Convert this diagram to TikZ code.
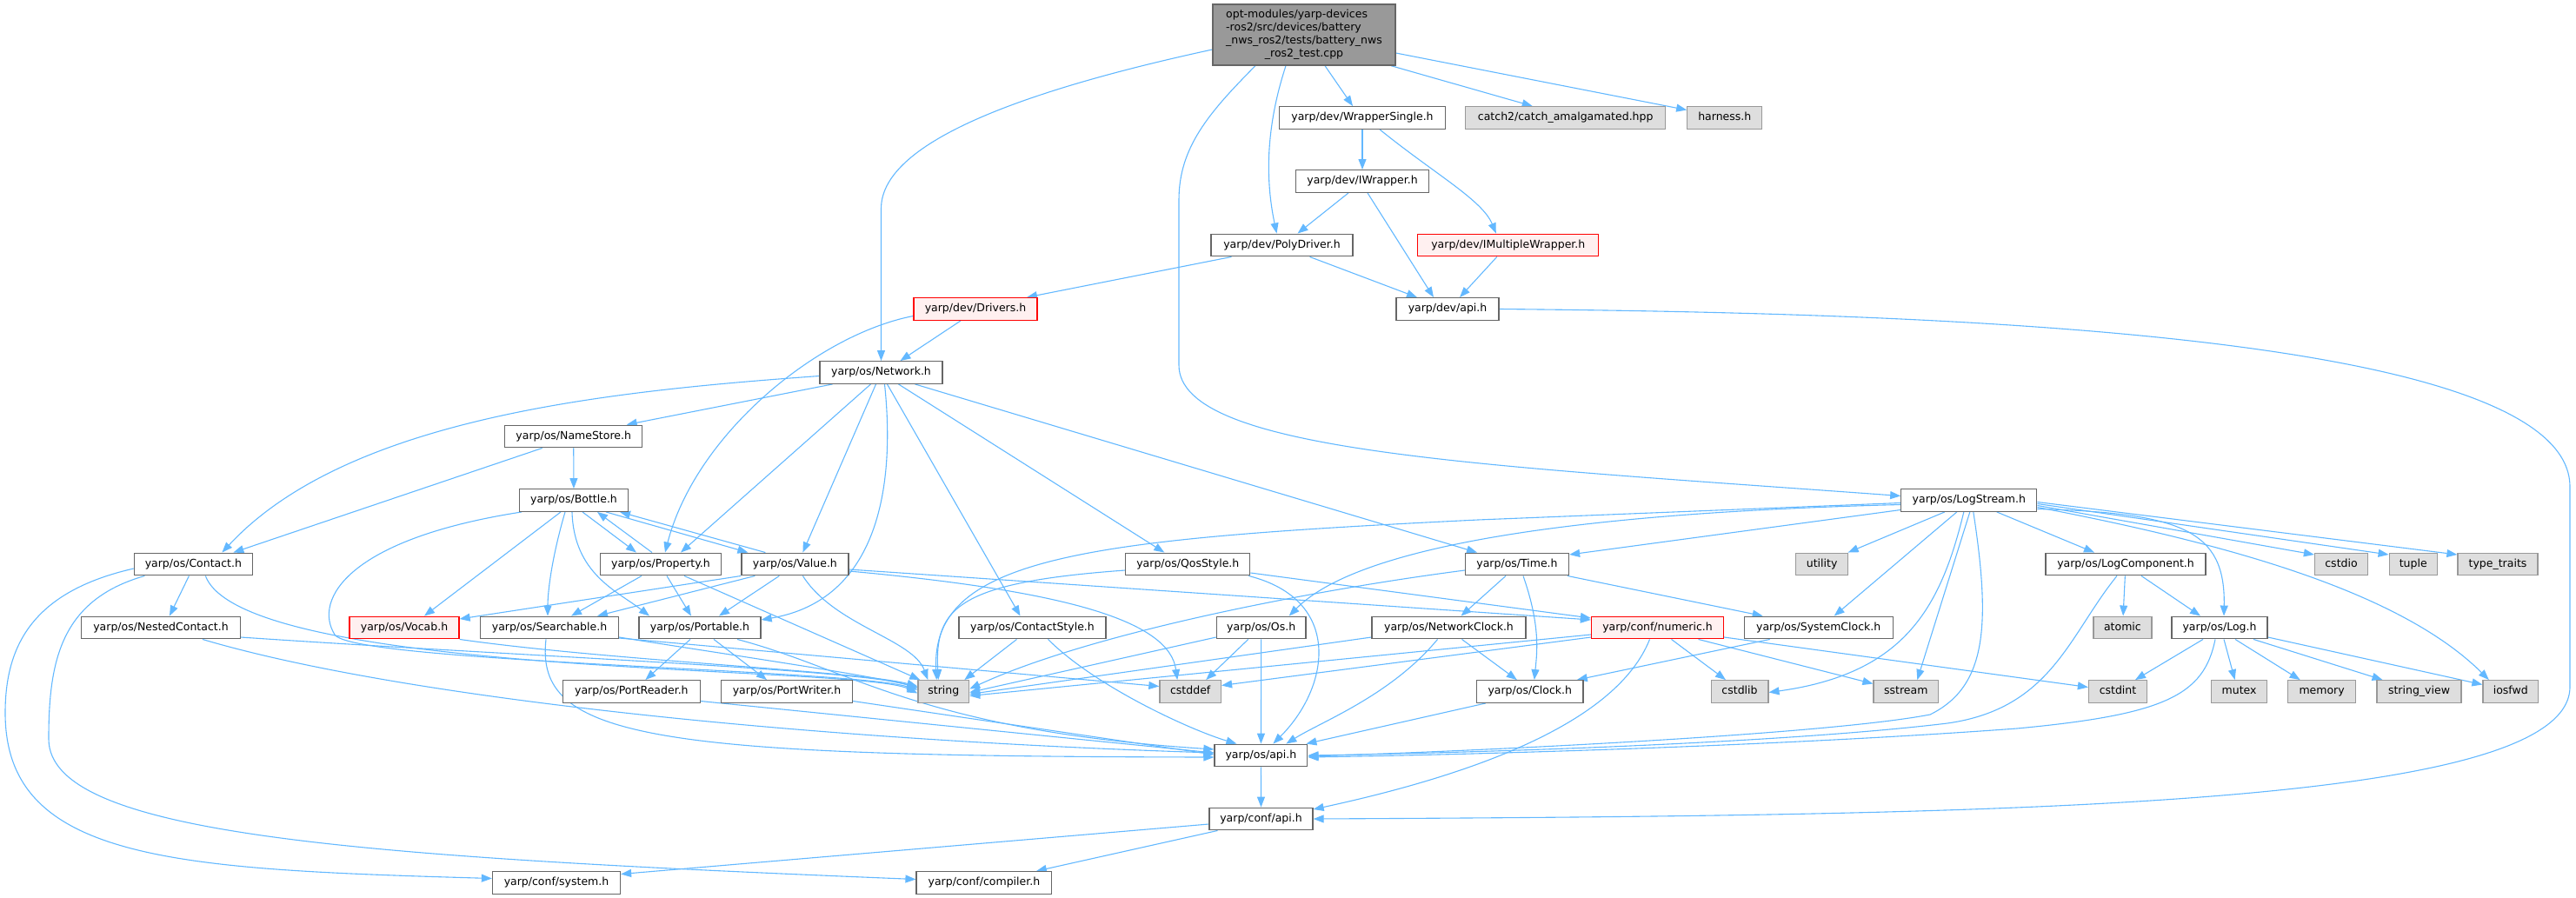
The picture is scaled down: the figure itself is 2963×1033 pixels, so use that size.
\documentclass[tikz,border=0pt]{standalone}
\usepackage{fontspec}
\setmainfont{DejaVu Sans}
\usetikzlibrary{arrows.meta}
\definecolor{EdgeBlue}{HTML}{63B8FF}
\definecolor{Grey40}{HTML}{666666}
\definecolor{Grey60}{HTML}{999999}
\definecolor{Grey87}{HTML}{DEDEDE}
\definecolor{TruncFill}{HTML}{FFF0F0}
\newcommand{\graphfont}{\fontsize{12.5}{14.8}\selectfont}
\pgfdeclarelayer{edgelayer}
\pgfsetlayers{edgelayer,main}
\tikzset{
  header/.style={rectangle, draw=Grey40, fill=white, line width=1.3pt, minimum height=25.6pt, inner sep=2pt, text height=9.3pt, text depth=2.7pt, font=\graphfont, text=black},
  stdhdr/.style={header, draw=Grey60, fill=Grey87},
  trunc/.style={header, draw=red, fill=TruncFill},
  srcfile/.style={rectangle, draw=Grey40, fill=Grey60, line width=1.3pt, inner sep=2pt, font=\graphfont, text=black},
  arrow/.style={->, >={Triangle[length=12pt, width=9pt]}, draw=EdgeBlue, line width=1.1pt}
}

\begin{document}
\begin{tikzpicture}[x=1pt, y=-1pt]
\useasboundingbox (0,0) rectangle (2963,1033);
\node (batterytest) [srcfile, minimum width=210pt, minimum height=70pt] at (1500,40) {\begin{tabular}{@{}l@{}}opt-modules/yarp-devices\\-ros2/src/devices/battery\\\_nws\_ros2/tests/battery\_nws\\\multicolumn{1}{@{}c@{}}{\_ros2\_test.cpp}\end{tabular}};
\node (wrappersingle) [header, minimum width=191pt] at (1567,135.5) {yarp/dev/WrapperSingle.h};
\node (catch) [stdhdr, minimum width=230pt] at (1800.7,135.5) {catch2/catch\_amalgamated.hpp};
\node (harness) [stdhdr, minimum width=86pt] at (1983.8,135.5) {harness.h};
\node (iwrapper) [header, minimum width=153pt] at (1567,208.5) {yarp/dev/IWrapper.h};
\node (polydriver) [header, minimum width=163pt] at (1474.5,282) {yarp/dev/PolyDriver.h};
\node (imultiplewrapper) [trunc, minimum width=208pt] at (1734.8,282) {yarp/dev/IMultipleWrapper.h};
\node (drivers) [trunc, minimum width=142pt] at (1122,355.5) {yarp/dev/Drivers.h};
\node (devapi) [header, minimum width=118pt] at (1665,355.5) {yarp/dev/api.h};
\node (network) [header, minimum width=141pt] at (1013.5,428.5) {yarp/os/Network.h};
\node (namestore) [header, minimum width=158pt] at (659.7,502) {yarp/os/NameStore.h};
\node (bottle) [header, minimum width=125pt] at (660,575.5) {yarp/os/Bottle.h};
\node (logstream) [header, minimum width=156pt] at (2264.8,575.5) {yarp/os/LogStream.h};
\node (contact) [header, minimum width=136pt] at (222.4,649) {yarp/os/Contact.h};
\node (property) [header, minimum width=139pt] at (760,649) {yarp/os/Property.h};
\node (value) [header, minimum width=123pt] at (914.4,649) {yarp/os/Value.h};
\node (qosstyle) [header, minimum width=143pt] at (1366.3,649) {yarp/os/QosStyle.h};
\node (time) [header, minimum width=119pt] at (1745,649) {yarp/os/Time.h};
\node (utility) [stdhdr, minimum width=60pt] at (2095.6,649) {utility};
\node (logcomponent) [header, minimum width=184pt] at (2445,649) {yarp/os/LogComponent.h};
\node (cstdio) [stdhdr, minimum width=61pt] at (2693,649) {cstdio};
\node (tuple) [stdhdr, minimum width=55pt] at (2775.7,649) {tuple};
\node (typetraits) [stdhdr, minimum width=92pt] at (2873,649) {type\_traits};
\node (nestedcontact) [header, minimum width=182.5pt] at (185,722) {yarp/os/NestedContact.h};
\node (vocab) [trunc, minimum width=126pt] at (465,722) {yarp/os/Vocab.h};
\node (searchable) [header, minimum width=159pt] at (632,722) {yarp/os/Searchable.h};
\node (portable) [header, minimum width=140pt] at (805,722) {yarp/os/Portable.h};
\node (contactstyle) [header, minimum width=169pt] at (1187.5,722) {yarp/os/ContactStyle.h};
\node (os) [header, minimum width=102.6pt] at (1450.7,722) {yarp/os/Os.h};
\node (networkclock) [header, minimum width=177pt] at (1666.5,722) {yarp/os/NetworkClock.h};
\node (numeric) [trunc, minimum width=152pt] at (1906.5,722) {yarp/conf/numeric.h};
\node (systemclock) [header, minimum width=171pt] at (2091.7,722) {yarp/os/SystemClock.h};
\node (atomic) [stdhdr, minimum width=67pt] at (2441.4,722) {atomic};
\node (log) [header, minimum width=110pt] at (2553,722) {yarp/os/Log.h};
\node (portreader) [header, minimum width=157.6pt] at (726.4,795.5) {yarp/os/PortReader.h};
\node (portwriter) [header, minimum width=151pt] at (905,795.5) {yarp/os/PortWriter.h};
\node (string) [stdhdr, minimum width=58.6pt] at (1085.3,795.5) {string};
\node (cstddef) [stdhdr, minimum width=70.5pt] at (1369.2,795.5) {cstddef};
\node (clock) [header, minimum width=122.5pt] at (1759.8,795.5) {yarp/os/Clock.h};
\node (cstdlib) [stdhdr, minimum width=65.7pt] at (2001,795.5) {cstdlib};
\node (sstream) [stdhdr, minimum width=74.5pt] at (2192.3,795.5) {sstream};
\node (cstdint) [stdhdr, minimum width=67pt] at (2436,795.5) {cstdint};
\node (mutex) [stdhdr, minimum width=64.4pt] at (2575.6,795.5) {mutex};
\node (memory) [stdhdr, minimum width=78pt] at (2670.6,795.5) {memory};
\node (stringview) [stdhdr, minimum width=97pt] at (2782.5,795.5) {string\_view};
\node (iosfwd) [stdhdr, minimum width=63.6pt] at (2887.8,795.5) {iosfwd};
\node (osapi) [header, minimum width=106.8pt] at (1450.4,869) {yarp/os/api.h};
\node (confapi) [header, minimum width=119pt] at (1450.5,942) {yarp/conf/api.h};
\node (confsystem) [header, minimum width=147pt] at (640,1015.5) {yarp/conf/system.h};
\node (confcompiler) [header, minimum width=155.7pt] at (1131.9,1015.5) {yarp/conf/compiler.h};
\begin{pgfonlayer}{edgelayer}
\draw [arrow] ([yshift=-17pt]batterytest.west) .. controls (1150,110) and (1013.5,170) .. (1013.5,240) -- (network);
\draw [arrow] ([xshift=-56pt]batterytest.south) .. controls (1390,130) and (1356,170) .. (1356,230) -- (1356,420) .. controls (1356,520) and (1700,535) .. ([yshift=5pt]logstream.west);
\draw [arrow] ([xshift=-21pt]batterytest.south) .. controls (1458,140) and (1454,200) .. ([xshift=-6pt]polydriver.north);
\draw [arrow] ([xshift=24pt]batterytest.south) -- ([xshift=-11pt]wrappersingle.north);
\draw [arrow] ([xshift=100pt]batterytest.south) -- ([xshift=-38pt]catch.north);
\draw [arrow] ([yshift=-21pt]batterytest.east) -- ([yshift=9pt]harness.west);
\draw [arrow] (wrappersingle) -- (iwrapper);
\draw [arrow] ([xshift=20pt]wrappersingle.south) .. controls (1650,200) and (1705,230) .. ([xshift=-14pt]imultiplewrapper.north);
\draw [arrow] ([xshift=-16pt]iwrapper.south) -- ([xshift=18pt]polydriver.north);
\draw [arrow] ([xshift=6pt]iwrapper.south) -- ([xshift=-16pt]devapi.north);
\draw [arrow] ([xshift=-13pt]imultiplewrapper.south) -- ([xshift=14pt]devapi.north);
\draw [arrow] ([xshift=-58pt]polydriver.south) -- ([xshift=59pt]drivers.north);
\draw [arrow] ([xshift=32pt]polydriver.south) -- ([xshift=-35pt]devapi.north);
\draw [arrow] ([xshift=-17pt]drivers.south) -- ([xshift=22pt]network.north);
\draw [arrow] ([yshift=-8pt]drivers.west) .. controls (940,385) and (800,500) .. ([xshift=5pt]property.north);
\draw [arrow] (devapi.east) .. controls (2200,360) and (2956,380) .. (2956,560) -- (2956,790) .. controls (2956,930) and (2300,938) .. (confapi.east);
\draw [arrow] ([yshift=-4pt]network.west) .. controls (700,450) and (400,480) .. ([xshift=33pt]contact.north);
\draw [arrow] ([xshift=-56pt]network.south) -- ([xshift=61pt]namestore.north);
\draw [arrow] ([xshift=-12pt]network.south) -- ([xshift=23pt]property.north);
\draw [arrow] ([xshift=-6pt]network.south) -- ([xshift=9pt]value.north);
\draw [arrow] ([xshift=4pt]network.south) .. controls (1030,560) and (1010,690) .. ([yshift=9pt]portable.east);
\draw [arrow] ([xshift=7pt]network.south) -- ([xshift=-14pt]contactstyle.north);
\draw [arrow] ([xshift=20pt]network.south) -- ([xshift=-27pt]qosstyle.north);
\draw [arrow] ([xshift=39pt]network.south) -- ([xshift=-46pt]time.north);
\draw [arrow] ([xshift=-36pt]namestore.south) -- ([xshift=46pt]contact.north);
\draw [arrow] (namestore) -- (bottle);
\draw [arrow] ([xshift=10pt]bottle.south) -- ([xshift=-28pt]property.north);
\draw [arrow] ([xshift=-10pt]property.north) -- ([xshift=27pt]bottle.south);
\draw [arrow] ([xshift=37pt]bottle.south) -- ([xshift=-54pt]value.north);
\draw [arrow] ([xshift=-34pt]value.north) -- ([xshift=53pt]bottle.south);
\draw [arrow] ([xshift=-15pt]bottle.south) -- ([xshift=23pt]vocab.north);
\draw [arrow] ([xshift=-10pt]bottle.south) .. controls (635,640) and (630,680) .. ([xshift=-2pt]searchable.north);
\draw [arrow] ([xshift=-2pt]bottle.south) .. controls (660,660) and (710,680) .. ([xshift=-58pt]portable.north);
\draw [arrow] ([xshift=-60pt]bottle.south) .. controls (400,620) and (360,690) .. (385,730) .. controls (405,762) and (980,770) .. ([yshift=2pt]string.west);
\draw [arrow] ([xshift=-22pt]property.south) -- ([xshift=25pt]searchable.north);
\draw [arrow] ([xshift=7pt]property.south) -- ([xshift=-10pt]portable.north);
\draw [arrow] ([xshift=27pt]property.south) -- ([xshift=-27pt]string.north);
\draw [arrow] ([xshift=-62pt]value.south) -- ([yshift=10pt]vocab.east);
\draw [arrow] ([xshift=-46pt]value.south) -- ([xshift=55pt]searchable.north);
\draw [arrow] ([xshift=-18pt]value.south) -- ([xshift=22pt]portable.north);
\draw [arrow] ([xshift=9pt]value.south) .. controls (960,720) and (1050,735) .. ([xshift=-18pt]string.north);
\draw [arrow] ([yshift=-6pt]value.east) -- ([yshift=9pt]numeric.west);
\draw [arrow] ([yshift=-8pt]value.east) .. controls (1230,680) and (1345,715) .. ([xshift=-15pt]cstddef.north);
\draw [arrow] ([xshift=-5pt]contact.south) -- ([xshift=10pt]nestedcontact.north);
\draw [arrow] ([xshift=14pt]contact.south) .. controls (280,780) and (990,765) .. ([yshift=-2pt]string.west);
\draw [arrow] ([yshift=-5pt]contact.west) .. controls (40,680) and (6,740) .. (6,820) .. controls (6,990) and (200,1000) .. ([yshift=5pt]confsystem.west);
\draw [arrow] ([xshift=-56pt]contact.south) .. controls (70,690) and (56,760) .. (56,850) .. controls (56,960) and (400,985) .. ([yshift=4pt]confcompiler.west);
\draw [arrow] ([yshift=-11pt]nestedcontact.east) .. controls (600,755) and (990,770) .. ([yshift=4pt]string.west);
\draw [arrow] ([xshift=48pt]nestedcontact.south) .. controls (450,800) and (900,850) .. ([yshift=3pt]osapi.west);
\draw [arrow] (vocab.south east) .. controls (700,760) and (990,772) .. ([yshift=6pt]string.west);
\draw [arrow] ([yshift=-11pt]searchable.east) .. controls (850,755) and (990,775) .. ([yshift=5pt]string.west);
\draw [arrow] ([yshift=-12pt]searchable.east) -- ([yshift=6pt]cstddef.west);
\draw [arrow] ([xshift=-4pt]searchable.south) .. controls (615,850) and (750,870) .. ([yshift=-2pt]osapi.west);
\draw [arrow] ([xshift=-11pt]portable.south) -- ([xshift=16pt]portreader.north);
\draw [arrow] ([xshift=16pt]portable.south) -- ([xshift=-23pt]portwriter.north);
\draw [arrow] ([xshift=43pt]portable.south) .. controls (980,770) and (1060,840) .. ([yshift=7pt]osapi.west);
\draw [arrow] ([yshift=-11pt]portreader.east) -- ([yshift=3pt]osapi.west);
\draw [arrow] ([yshift=-11pt]portwriter.east) -- ([yshift=1pt]osapi.west);
\draw [arrow] ([xshift=-18pt]contactstyle.south) -- ([xshift=24pt]string.north);
\draw [arrow] ([xshift=18pt]contactstyle.south) .. controls (1260,790) and (1370,840) .. ([xshift=-28pt]osapi.north);
\draw [arrow] ([yshift=-7pt]qosstyle.west) .. controls (1100,670) and (1075,700) .. ([xshift=-6pt]string.north);
\draw [arrow] ([yshift=-10pt]qosstyle.east) -- ([yshift=11pt]numeric.west);
\draw [arrow] ([xshift=70pt]qosstyle.south) .. controls (1545,690) and (1530,790) .. ([xshift=14pt]osapi.north);
\draw [arrow] ([yshift=-7pt]time.west) .. controls (1500,680) and (1250,730) .. ([yshift=3pt]string.east);
\draw [arrow] ([xshift=-13pt]time.south) -- ([xshift=14pt]networkclock.north);
\draw [arrow] ([xshift=7pt]time.south) .. controls (1772,720) and (1768,750) .. ([xshift=5pt]clock.north);
\draw [arrow] ([xshift=58pt]time.south) -- ([xshift=-64pt]systemclock.north);
\draw [arrow] ([yshift=-11pt]os.west) -- ([yshift=-1pt]string.east);
\draw [arrow] ([xshift=-15pt]os.south) -- ([xshift=18pt]cstddef.north);
\draw [arrow] (os) -- (osapi);
\draw [arrow] ([yshift=-11pt]networkclock.west) -- ([yshift=-3pt]string.east);
\draw [arrow] ([xshift=-13pt]networkclock.south) .. controls (1600,800) and (1520,830) .. ([xshift=29pt]osapi.north);
\draw [arrow] ([xshift=15pt]networkclock.south) -- ([xshift=-15pt]clock.north);
\draw [arrow] ([yshift=-8pt]numeric.west) -- ([yshift=-5pt]string.east);
\draw [arrow] ([yshift=-11pt]numeric.west) -- ([yshift=7pt]cstddef.east);
\draw [arrow] ([xshift=-9pt]numeric.south) .. controls (1860,830) and (1700,890) .. ([yshift=11pt]confapi.east);
\draw [arrow] ([xshift=16pt]numeric.south) -- ([xshift=-16pt]cstdlib.north);
\draw [arrow] ([xshift=47pt]numeric.south) -- ([yshift=9pt]sstream.west);
\draw [arrow] ([yshift=-11pt]numeric.east) -- ([yshift=5pt]cstdint.west);
\draw [arrow] ([xshift=-51pt]clock.south) -- ([xshift=52pt]osapi.north);
\draw [arrow] ([xshift=-56pt]systemclock.south) -- ([xshift=54pt]clock.north);
\draw [arrow] ([yshift=-3pt]logstream.west) -- (1700,598) .. controls (1250,620) and (1070,640) .. ([xshift=-8pt]string.north);
\draw [arrow] ([yshift=-5pt]logstream.west) .. controls (1800,590) and (1560,630) .. ([xshift=32pt]os.north);
\draw [arrow] ([yshift=-11pt]logstream.west) -- ([yshift=11pt]time.east);
\draw [arrow] ([xshift=-28pt]logstream.south) -- ([xshift=30pt]utility.north);
\draw [arrow] ([xshift=-14pt]logstream.south) -- ([xshift=18pt]systemclock.north);
\draw [arrow] ([xshift=-6pt]logstream.south) .. controls (2232,700) and (2190,775) .. ([yshift=-1pt]cstdlib.east);
\draw [arrow] ([xshift=1pt]logstream.south) -- ([xshift=13pt]sstream.north);
\draw [arrow] ([xshift=5pt]logstream.south) .. controls (2290,720) and (2285,790) .. (2220,822) .. controls (2100,845) and (1700,864) .. ([yshift=-1pt]osapi.east);
\draw [arrow] ([xshift=32pt]logstream.south) -- ([xshift=-36pt]logcomponent.north);
\draw [arrow] ([yshift=-10pt]logstream.east) .. controls (2510,590) and (2560,610) .. ([xshift=5pt]log.north);
\draw [arrow] ([yshift=-8pt]logstream.east) .. controls (2560,625) and (2760,680) .. ([xshift=-25pt]iosfwd.north);
\draw [arrow] ([yshift=-6pt]logstream.east) -- ([yshift=11pt]cstdio.west);
\draw [arrow] ([yshift=-4pt]logstream.east) -- ([yshift=11pt]tuple.west);
\draw [arrow] ([yshift=-2pt]logstream.east) -- ([yshift=11pt]typetraits.west);
\draw [arrow] ([xshift=-10pt]logcomponent.south) .. controls (2380,730) and (2360,815) .. (2240,832) .. controls (2050,855) and (1700,866) .. (osapi.east);
\draw [arrow] (logcomponent) -- (atomic);
\draw [arrow] ([xshift=18pt]logcomponent.south) -- ([xshift=-22pt]log.north);
\draw [arrow] ([xshift=-19pt]log.south) -- ([xshift=20pt]cstdint.north);
\draw [arrow] ([xshift=-5pt]log.south) .. controls (2535,800) and (2490,822) .. (2320,838) .. controls (2050,858) and (1700,868) .. ([yshift=-2pt]osapi.east);
\draw [arrow] ([xshift=5pt]log.south) -- ([xshift=-5pt]mutex.north);
\draw [arrow] ([xshift=18pt]log.south) -- ([xshift=-25pt]memory.north);
\draw [arrow] ([xshift=39pt]log.south) -- ([xshift=-42pt]stringview.north);
\draw [arrow] ([yshift=-11pt]log.east) -- ([yshift=8pt]iosfwd.west);
\draw [arrow] (osapi) -- (confapi);
\draw [arrow] ([yshift=-6pt]confapi.west) -- ([yshift=10pt]confsystem.east);
\draw [arrow] ([xshift=-50pt]confapi.south) -- ([xshift=60pt]confcompiler.north);
\end{pgfonlayer}
\end{tikzpicture}
\end{document}
